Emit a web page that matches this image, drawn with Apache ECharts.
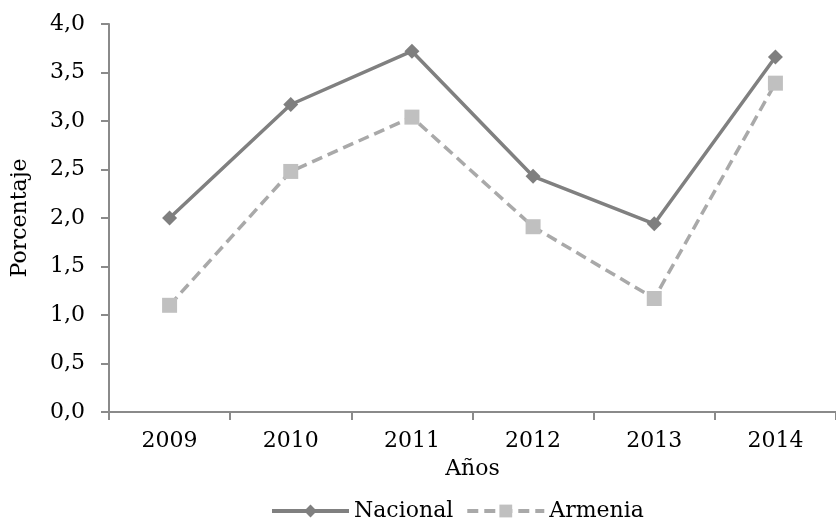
<!DOCTYPE html>
<html>
<head>
<meta charset="utf-8">
<script src="https://cdn.jsdelivr.net/npm/echarts@6/dist/echarts.min.js"></script>
<style>html,body{margin:0;padding:0;background:#fff}#c{width:836px;height:521px}</style>
</head>
<body>
<div id="c"></div>
<script>
var categories = ['2009', '2010', '2011', '2012', '2013', '2014'];
var nacional = [2.00, 3.17, 3.72, 2.43, 1.94, 3.66];
var armenia = [1.10, 2.48, 3.04, 1.91, 1.17, 3.39];
var yTicks = [0, 0.5, 1, 1.5, 2, 2.5, 3, 3.5, 4];

var font = 'DejaVu Serif';
var fs = 22;
var chart = echarts.init(document.getElementById('c'), null, {renderer: 'canvas'});
chart.setOption({
  animation: false,
  backgroundColor: '#ffffff',
  textStyle: {fontFamily: font, color: '#000'},
  grid: {left: 109, top: 24, bottom: 109, width: 734, containLabel: false},
  legend: {
    top: 500, left: 270, padding: 0,
    itemWidth: 77, itemHeight: 16, itemGap: 12,
    lineStyle: {width: 4},
    textStyle: {fontFamily: font, fontSize: fs, color: '#000'},
    data: ['Nacional', 'Armenia']
  },
  xAxis: {
    type: 'category',
    data: categories,
    boundaryGap: true,
    name: 'Años', nameLocation: 'middle', nameGap: 46,
    nameTextStyle: {fontFamily: font, fontSize: fs, color: '#000'},
    axisLine: {lineStyle: {color: '#8a8a8a', width: 2}},
    axisTick: {show: true, length: 8, alignWithLabel: false, lineStyle: {color: '#8a8a8a', width: 2}},
    axisLabel: {margin: 18, fontFamily: font, fontSize: fs, color: '#000'},
    splitLine: {show: false}
  },
  yAxis: {
    type: 'value', min: yTicks[0], max: yTicks[yTicks.length - 1], interval: 0.5,
    name: 'Porcentaje', nameLocation: 'middle', nameGap: 78, nameRotate: 90,
    nameTextStyle: {fontFamily: font, fontSize: fs, color: '#000'},
    axisLine: {show: true, lineStyle: {color: '#8a8a8a', width: 2}},
    axisTick: {show: true, length: 8, lineStyle: {color: '#8a8a8a', width: 2}},
    axisLabel: {margin: 24, fontFamily: font, fontSize: fs, color: '#000',
      formatter: function (v) { return v.toFixed(1).replace('.', ','); }},
    splitLine: {show: false}
  },
  series: [
    {
      name: 'Nacional', type: 'line', data: nacional,
      symbol: 'diamond', symbolSize: 15, showSymbol: true,
      lineStyle: {color: '#808080', width: 3.5},
      itemStyle: {color: '#7f7f7f'}
    },
    {
      name: 'Armenia', type: 'line', data: armenia,
      symbol: 'rect', symbolSize: 15, showSymbol: true,
      lineStyle: {color: '#a9a9a9', width: 3.5, type: [11, 6]},
      itemStyle: {color: '#c0c0c0'}
    }
  ]
});
</script>
</body>
</html>
